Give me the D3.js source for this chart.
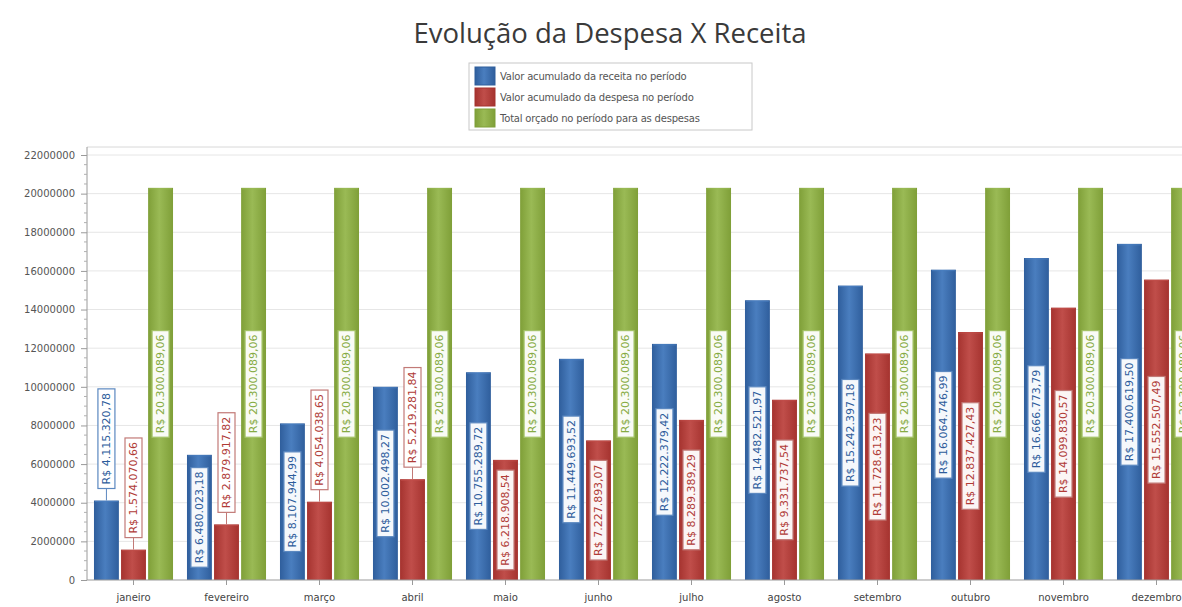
<!DOCTYPE html>
<html>
<head>
<meta charset="utf-8">
<script src="https://cdn.jsdelivr.net/npm/d3@7"></script>
<style>
  html, body { margin: 0; padding: 0; background: #fff; }
  svg { display: block; }
</style>
</head>
<body>
<script>
const months = ["janeiro", "fevereiro", "março", "abril", "maio", "junho",
  "julho", "agosto", "setembro", "outubro", "novembro", "dezembro"];

const receita = [4115320.78, 6480023.18, 8107944.99, 10002498.27, 10755289.72, 11449693.52,
  12222379.42, 14482521.97, 15242397.18, 16064746.99, 16666773.79, 17400619.50];

const despesa = [1574070.66, 2879917.82, 4054038.65, 5219281.84, 6218908.54, 7227893.07,
  8289389.29, 9331737.54, 11728613.23, 12837427.43, 14099830.57, 15552507.49];

const orcado = [20300089.06, 20300089.06, 20300089.06, 20300089.06, 20300089.06, 20300089.06,
  20300089.06, 20300089.06, 20300089.06, 20300089.06, 20300089.06, 20300089.06];

const seriesNames = [
  "Valor acumulado da receita no período",
  "Valor acumulado da despesa no período",
  "Total orçado no período para as despesas"
];

const yTicks = [0, 2000000, 4000000, 6000000, 8000000, 10000000, 12000000,
  14000000, 16000000, 18000000, 20000000, 22000000];

// look of each series: bar gradient, label border and label text
const styles = [
  { dark: "#2f5e9c", light: "#4a7ebf", border: "#5b88c0", text: "#2d5c9b" },
  { dark: "#a5332f", light: "#c04e4a", border: "#c27a77", text: "#b03b37" },
  { dark: "#7f9f38", light: "#9aba55", border: "#a3c266", text: "#86ab43" }
];

const W = 1182, H = 607;
const margin = { left: 87, top: 147, bottom: 580 };
const step = 93;

const series = [receita, despesa, orcado];
const data = months.map((m, i) => ({
  month: m,
  values: series.map((s, k) => ({ k, value: s[i] }))
}));

const svg = d3.select("body").append("svg")
  .attr("width", W)
  .attr("height", H)
  .style("font-family", "'DejaVu Sans', sans-serif");

const defs = svg.append("defs");
styles.forEach((st, k) => {
  const g = defs.append("linearGradient")
    .attr("id", "grad" + k)
    .attr("x1", "0%").attr("x2", "100%")
    .attr("y1", "0%").attr("y2", "0%");
  g.append("stop").attr("offset", "0%").attr("stop-color", st.dark);
  g.append("stop").attr("offset", "45%").attr("stop-color", st.light);
  g.append("stop").attr("offset", "100%").attr("stop-color", st.dark);
});

// title
svg.append("text")
  .attr("x", 610)
  .attr("y", 43)
  .attr("text-anchor", "middle")
  .attr("fill", "#3a3a3a")
  .style("font-family", "'Open Sans', sans-serif")
  .style("font-size", "27.5px")
  .text("Evolução da Despesa X Receita");

// legend
const legend = svg.append("g").attr("transform", "translate(469,63)");
legend.append("rect")
  .attr("width", 283).attr("height", 67)
  .attr("fill", "#fff")
  .attr("stroke", "#c8c8c8");
seriesNames.forEach((name, k) => {
  const row = legend.append("g").attr("transform", `translate(6,${4 + k * 21})`);
  row.append("rect")
    .attr("width", 20).attr("height", 18)
    .attr("fill", `url(#grad${k})`)
    .attr("stroke", styles[k].dark);
  row.append("text")
    .attr("x", 25).attr("y", 13)
    .attr("fill", "#555")
    .style("font-size", "10px")
    .style("letter-spacing", "-0.2px")
    .text(name);
});

// scales
const x0 = d3.scaleBand()
  .domain(months)
  .range([margin.left, margin.left + step * months.length])
  .paddingInner(0.15)
  .paddingOuter(0.075);

const x1 = d3.scaleBand()
  .domain([0, 1, 2])
  .range([0, x0.bandwidth()])
  .paddingInner(0.08);

const y = d3.scaleLinear()
  .domain([0, 22000000])
  .range([margin.bottom, 155]);

// grid
svg.append("g")
  .selectAll("line")
  .data(yTicks.filter(t => t > 0))
  .join("line")
  .attr("x1", margin.left).attr("x2", W)
  .attr("y1", d => y(d)).attr("y2", d => y(d))
  .attr("stroke", "#e6e6e6");

svg.append("line")
  .attr("x1", margin.left).attr("x2", W)
  .attr("y1", margin.top).attr("y2", margin.top)
  .attr("stroke", "#d8d8d8");

// y axis
const yAxis = svg.append("g")
  .attr("transform", `translate(${margin.left},0)`)
  .call(d3.axisLeft(y).tickValues(yTicks).tickFormat(d3.format("d")).tickSize(6).tickPadding(6));
yAxis.select(".domain").attr("stroke", "#9a9a9a").attr("d", `M0,${margin.top}V${margin.bottom}`);
yAxis.selectAll(".tick line").attr("stroke", "#9a9a9a");
yAxis.selectAll(".tick text")
  .attr("fill", "#555")
  .style("font-size", "10px")
  .style("font-family", "'DejaVu Sans', sans-serif");

// minor ticks
svg.append("g")
  .selectAll("line")
  .data(d3.range(500000, 22000000, 500000).filter(v => v % 2000000 !== 0))
  .join("line")
  .attr("x1", margin.left - 3).attr("x2", margin.left)
  .attr("y1", d => y(d)).attr("y2", d => y(d))
  .attr("stroke", "#b0b0b0");

// bars
const groups = svg.append("g")
  .selectAll("g")
  .data(data)
  .join("g")
  .attr("transform", d => `translate(${x0(d.month)},0)`);

groups.selectAll("rect")
  .data(d => d.values)
  .join("rect")
  .attr("x", d => x1(d.k))
  .attr("y", d => y(d.value))
  .attr("width", x1.bandwidth())
  .attr("height", d => y(0) - y(d.value))
  .attr("fill", d => `url(#grad${d.k})`);

// light cap at bar tops
groups.selectAll("line.cap")
  .data(d => d.values)
  .join("line")
  .attr("class", "cap")
  .attr("x1", d => x1(d.k) + 1)
  .attr("x2", d => x1(d.k) + x1.bandwidth() - 1)
  .attr("y1", d => y(d.value) + 1)
  .attr("y2", d => y(d.value) + 1)
  .attr("stroke", d => styles[d.k].light)
  .attr("stroke-opacity", 0.8);

// x axis
const xAxis = svg.append("g")
  .attr("transform", `translate(0,${margin.bottom})`)
  .call(d3.axisBottom(x0).tickSize(5).tickPadding(9));
xAxis.select(".domain").attr("stroke", "#9a9a9a").attr("d", `M${margin.left},0H${W}`);
xAxis.selectAll(".tick line").attr("stroke", "#9a9a9a");
xAxis.selectAll(".tick text")
  .attr("fill", "#444")
  .style("font-size", "10px")
  .style("font-family", "'DejaVu Sans', sans-serif");

// value labels
const fmt = d3.formatLocale({ decimal: ",", thousands: ".", grouping: [3], currency: ["R$ ", ""] })
  .format("$,.2f");

const labelGap = 12;
groups.each(function(d) {
  const g = d3.select(this);
  d.values.forEach(v => {
    const st = styles[v.k];
    const cx = x1(v.k) + x1.bandwidth() / 2;
    const lab = g.append("g");
    const box = lab.append("rect")
      .attr("fill", "#fff")
      .attr("fill-opacity", 0.95)
      .attr("stroke", st.border)
      .attr("stroke-width", 1.2);
    const txt = lab.append("text")
      .attr("transform", "rotate(-90)")
      .attr("text-anchor", "middle")
      .attr("dy", "0.35em")
      .attr("fill", st.text)
      .style("font-size", "11px")
      .text(fmt(v.value));
    const len = txt.node().getComputedTextLength() + 8;
    const bw = 17;
    const top = y(v.value);
    const barH = y(0) - top;
    let cy;
    if (barH >= len + 4) {
      cy = top + barH / 2;
    } else {
      cy = top - labelGap - len / 2;
      g.insert("line", () => lab.node())
        .attr("x1", cx).attr("x2", cx)
        .attr("y1", top).attr("y2", top - labelGap)
        .attr("stroke", st.border);
    }
    lab.attr("transform", `translate(${cx},${cy})`);
    box.attr("x", -bw / 2).attr("y", -len / 2).attr("width", bw).attr("height", len);
  });
});
</script>
</body>
</html>
